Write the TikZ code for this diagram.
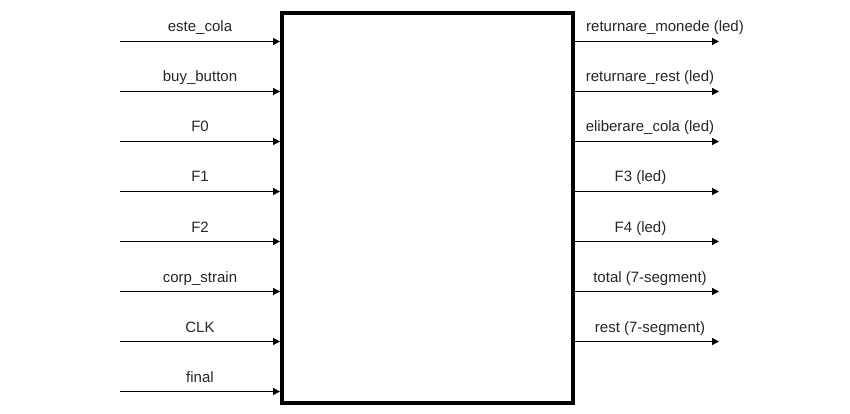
\documentclass[tikz,border=0pt]{standalone}
\usepackage{fontspec}
\setmainfont{Liberation Sans}
\usetikzlibrary{arrows.meta}
\begin{document}
\begin{tikzpicture}[x=1pt,y=-1pt,
  block/.style={draw=black,line width=4pt,fill=white},
  sig/.style={draw=black,line width=1.3pt,-{Triangle[length=7pt,width=7pt]}},
  lbl/.style={anchor=base,inner sep=0pt,font=\fontsize{15pt}{18pt}\selectfont,text=black!85}]
  \useasboundingbox (0,0) rectangle (850,414);
  % the central block
  \node[block,minimum width=290.5pt,minimum height=389.5pt,inner sep=0pt,anchor=north west] (blk) at (280,11.5) {};

  % input signals on the left
  \foreach \name/\txt/\yy in {i1/este\_cola/41.5, i2/buy\_button/91.5, i3/F0/141.5, i4/F1/191.5,
                              i5/F2/241.5, i6/corp\_strain/291.5, i7/CLK/341.5, i8/final/391.5} {
    \coordinate (\name s) at (120,\yy);
    \coordinate (\name e) at (blk.west |- 0,\yy);
    \draw[sig] (\name s) -- (\name e);
    \node[lbl] (\name l) at (200,\yy-9.5) {\txt};
  }

  % output signals on the right
  \foreach \name/\txt/\yy/\xx in {o1/returnare\_monede (led)/41.5/665, o2/returnare\_rest (led)/91.5/650,
                                  o3/eliberare\_cola (led)/141.5/650, o4/F3 (led)/191.5/640.5,
                                  o5/F4 (led)/241.5/640.5, o6/total (7-segment)/291.5/650,
                                  o7/rest (7-segment)/341.5/650} {
    \coordinate (\name s) at (blk.east |- 0,\yy);
    \coordinate (\name e) at (719,\yy);
    \draw[sig,shorten <=-2pt] (\name s) -- (\name e);
    \node[lbl] (\name l) at (\xx,\yy-9.5) {\txt};
  }
\end{tikzpicture}
\end{document}
